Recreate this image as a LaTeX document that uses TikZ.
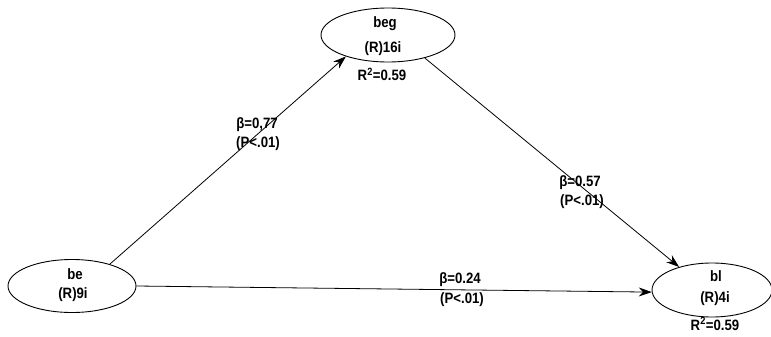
\documentclass[tikz,border=0pt]{standalone}
\usepackage{fontspec}
\setmainfont{Liberation Sans}
\newfontfamily\narrowf[FakeStretch=0.88]{Liberation Sans}
\usetikzlibrary{shapes.geometric,arrows.meta}
\begin{document}
\begin{tikzpicture}[x=1pt,y=-1pt,
  lat/.style={draw,ellipse,line width=0.9pt,inner sep=0pt},
  conn/.style={line width=0.8pt,-{Stealth[length=13pt,width=9pt]}},
  txt/.style={font=\narrowf\fontsize{15}{18}\selectfont\bfseries,anchor=base,inner sep=0pt}]
\useasboundingbox (0,0) rectangle (771,337);
\node[lat,minimum width=134pt,minimum height=54pt] (beg) at (388,35) {};
\node[txt] (begt) at (385,28) {beg};
\node[txt] (begs) at (383,53) {(R)16i};
\node[txt] (begr) at (382,81) {R\textsuperscript{2}=0.59};
\node[lat,minimum width=128pt,minimum height=53pt] (be) at (72,286) {};
\node[txt] (bet) at (75,279) {be};
\node[txt] (bes) at (73,298) {(R)9i};
\node[lat,minimum width=120pt,minimum height=54pt] (bl) at (712,290) {};
\node[txt] (blt) at (716,281) {bl};
\node[txt] (bls) at (715,302) {(R)4i};
\node[txt] (blr) at (715,330) {R\textsuperscript{2}=0.59};
\draw[conn] (be.30) -- (beg.207);
\draw[conn] (beg.-32) -- (bl.145);
\draw[conn] (be.east) -- (bl.182);
\node[txt] (l1a) at (257,128) {β=0,77};
\node[txt] (l1b) at (258,147) {(P<.01)};
\node[txt] (l2a) at (580,186) {β=0.57};
\node[txt] (l2b) at (582,205) {(P<.01)};
\node[txt] (l3a) at (460,283) {β=0.24};
\node[txt] (l3b) at (462,303) {(P<.01)};
\end{tikzpicture}
\end{document}
